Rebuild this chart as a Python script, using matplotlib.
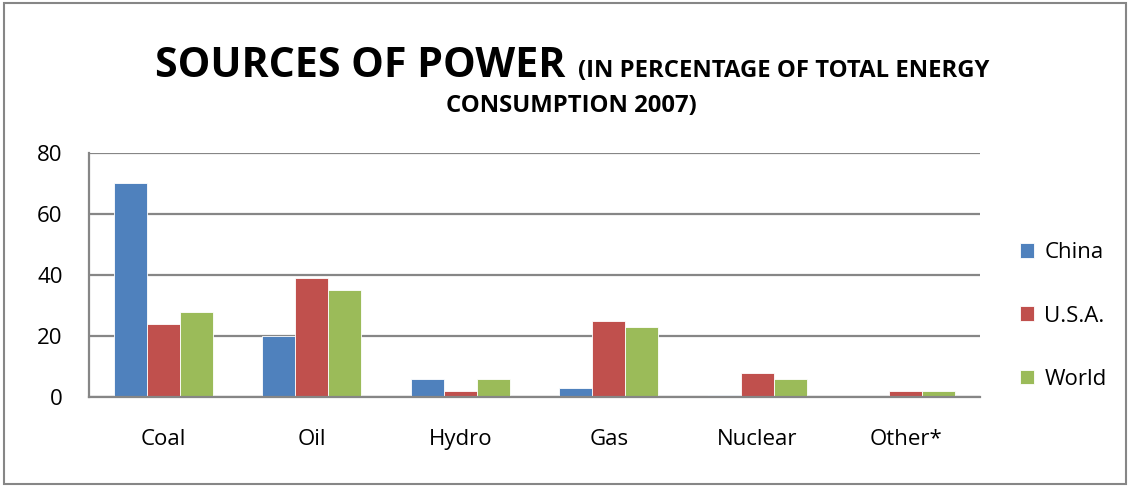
import numpy as np
import matplotlib.pyplot as plt
from matplotlib.patches import Rectangle

# data
categories = ['Coal', 'Oil', 'Hydro', 'Gas', 'Nuclear', 'Other*']
china = [70, 20, 6, 3, 0.5, 0.4]
usa = [24, 39, 2, 25, 8, 2]
world = [28, 35, 6, 23, 6, 2]
series_names = ['China', 'U.S.A.', 'World']

colors = ['#4F81BD', '#C0504D', '#9BBB59']
grid_color = '#868686'

plt.rcParams['font.family'] = ['Open Sans', 'DejaVu Sans']

W, H = 1130, 486
fig = plt.figure(figsize=(W / 100, H / 100), dpi=100)
ax = fig.add_axes([89 / W, 1 - 397 / H, (980 - 89) / W, (397 - 153) / H])

index = np.arange(len(categories))
width = 0.222
for k, (vals, name) in enumerate(zip([china, usa, world], series_names)):
    ax.bar(index + (k - 1) * width, vals, width, color=colors[k], label=name,
           edgecolor='white', linewidth=0.6, zorder=3)

ax.set_xlim(-0.5, len(categories) - 0.5)
ax.set_ylim(0, 80)
ax.set_yticks([0, 20, 40, 60, 80])
ax.set_xticks(index)
ax.set_xticklabels(categories)
ax.tick_params(axis='both', length=0, labelsize=16)
ax.tick_params(axis='y', pad=19)
ax.tick_params(axis='x', pad=23)
ax.yaxis.grid(True, color=grid_color, linewidth=1.6, zorder=0)
for s in ['top', 'right']:
    ax.spines[s].set_visible(False)
for s in ['left', 'bottom']:
    ax.spines[s].set_color(grid_color)
    ax.spines[s].set_linewidth(1.6)
ax.spines['bottom'].set_zorder(4)

leg = ax.legend(loc='center left', bbox_to_anchor=(1020 / W, 1 - 316 / H),
                bbox_transform=fig.transFigure, frameon=False,
                fontsize=16, handlelength=0.65, handleheight=0.65,
                handletextpad=0.45, labelspacing=1.9, borderaxespad=0,
                borderpad=0)

# title in two sizes, fitted to the widths in the picture
renderer = fig.canvas.get_renderer()

def fit(t, target):
    w = t.get_window_extent(renderer).width
    t.set_fontsize(t.get_fontsize() * target / w)

t1 = fig.text(155 / W, 1 - 77 / H, 'SOURCES OF POWER', fontsize=30,
              fontweight='bold', ha='left', va='baseline')
fit(t1, 410)
t2 = fig.text(578 / W, 1 - 77 / H, '(IN PERCENTAGE OF TOTAL ENERGY', fontsize=15,
              fontweight='bold', ha='left', va='baseline')
fit(t2, 412)
t3 = fig.text(571 / W, 1 - 112 / H, 'CONSUMPTION 2007)', fontsize=15,
              fontweight='bold', ha='center', va='baseline')
fit(t3, 252)

# outer chart border
fig.patches.append(Rectangle((4 / W, 2 / H), 1122 / W, 481 / H,
                             transform=fig.transFigure, fill=False,
                             edgecolor=grid_color, linewidth=1.5))

fig.savefig('out.png', dpi=100)
